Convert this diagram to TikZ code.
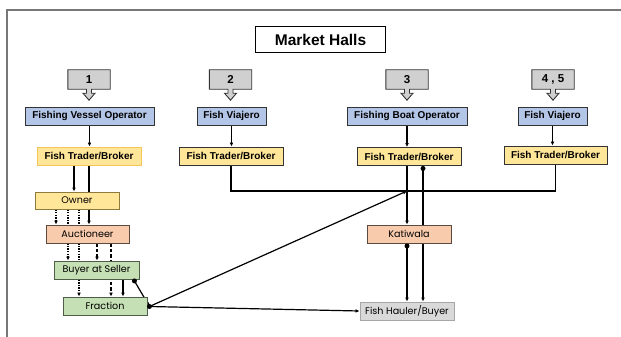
\documentclass[tikz,border=0pt]{standalone}
\usepackage{fontspec}
\setmainfont{Liberation Sans}
\IfFileExists{texgyreadventor-regular.otf}{\newfontfamily\gothic{texgyreadventor-regular.otf}}{\newfontfamily\gothic{Poppins}}
\usetikzlibrary{arrows.meta,calc}
\definecolor{framec}{HTML}{777777}
\definecolor{callg}{HTML}{D0D0D0}
\definecolor{blueF}{HTML}{B4C6E7}
\definecolor{yellF}{HTML}{FFE699}
\definecolor{yellB}{HTML}{F2C45A}
\definecolor{ownB}{HTML}{8C7B3C}
\definecolor{salF}{HTML}{F8CBAD}
\definecolor{salB}{HTML}{5A4A40}
\definecolor{grnF}{HTML}{C5E0B4}
\definecolor{grnB}{HTML}{4D5D47}
\definecolor{hauF}{HTML}{D9D9D9}
\definecolor{hauB}{HTML}{A6A6A6}
\definecolor{edge}{HTML}{333333}
\pgfdeclarelayer{bg}
\pgfsetlayers{bg,main}
\tikzset{
  box/.style={rectangle, draw=edge, line width=0.9pt, inner sep=0pt, minimum height=18pt},
  boldbox/.style={box, font=\bfseries\fontsize{10}{11}\selectfont},
  plainbox/.style={box, font=\gothic\fontsize{9.6}{10}\selectfont},
  bluebox/.style={boldbox, fill=blueF},
  tradebox/.style={boldbox, fill=yellF},
  callnum/.style={rectangle, inner sep=0pt, minimum width=42pt, minimum height=19pt, font=\bfseries\fontsize{11.5}{12}\selectfont},
  callshape/.style={draw=edge, fill=callg, line width=0.9pt, line join=miter},
  conn/.style={line width=1.2pt, draw=black, arrows={-Latex[length=4pt,width=3.8pt]}},
  plainline/.style={line width=1.2pt, draw=black},
  dotl/.style={conn, dash pattern=on 1.3pt off 1.3pt},
  dashl/.style={conn, dash pattern=on 3.5pt off 2pt},
  blob/.style={fill=black},
}
\newcommand\calloutpath[1]{%
  \draw[callshape] (#1.north west) -- (#1.north east) -- (#1.south east)
   -- ($(#1.south)+(2.5,0)$) -- ($(#1.south)+(2.5,4)$) -- ($(#1.south)+(6,4)$)
   -- ($(#1.south)+(0,11)$) -- ($(#1.south)+(-6,4)$) -- ($(#1.south)+(-2.5,4)$)
   -- ($(#1.south)+(-2.5,0)$) -- (#1.south west) -- cycle;}
\begin{document}
\begin{tikzpicture}[x=1pt,y=-1pt]
\useasboundingbox (0,0) rectangle (621,337);
\draw[framec, line width=1.3pt] (7,345) -- (7,10) -- (630,10);

% title
\node[rectangle, draw=black, line width=1pt, minimum width=130pt, minimum height=26pt, inner sep=0pt,
      font=\bfseries\fontsize{15.5}{17}\selectfont] (mh) at (320.5,40) {Market Halls};

% callouts
\node[callnum] (c1) at (89,79.5) {1};
\node[callnum] (c2) at (230.5,79.5) {2};
\node[callnum] (c3) at (407,79.5) {3};
\node[callnum] (c4) at (553,79.5) {4 , 5};
\begin{pgfonlayer}{bg}
\calloutpath{c1}\calloutpath{c2}\calloutpath{c3}\calloutpath{c4}
\end{pgfonlayer}

% operators
\node[bluebox, minimum width=129pt] (b1) at (89.5,116) {Fishing Vessel Operator};
\node[bluebox, minimum width=69pt] (b2) at (231.5,116) {Fish Viajero};
\node[bluebox, minimum width=120pt] (b3) at (407,116) {Fishing Boat Operator};
\node[bluebox, minimum width=69pt] (b4) at (552.5,116) {Fish Viajero};

% traders
\node[tradebox, draw=yellB, minimum width=104pt] (t1) at (89,156) {Fish Trader/Broker};
\node[tradebox, minimum width=104pt] (t2) at (231,156) {Fish Trader/Broker};
\node[tradebox, minimum width=104pt] (t3) at (409,156.5) {Fish Trader/Broker};
\node[tradebox, minimum width=103pt] (t4) at (555.5,155) {Fish Trader/Broker};

% left column
\node[plainbox, fill=yellF, draw=ownB, minimum width=84pt, minimum height=17pt] (own) at (77,200.5) {Owner};
\node[plainbox, fill=salF, draw=salB, minimum width=83pt] (auc) at (87.5,234) {Auctioneer};
\node[plainbox, fill=grnF, draw=grnB, minimum width=85pt] (buy) at (96.5,270) {Buyer at Seller};
\node[plainbox, fill=grnF, draw=grnB, minimum width=84pt] (fra) at (105,306) {Fraction};

% right column
\node[plainbox, fill=salF, draw=salB, minimum width=84pt] (kat) at (409,234) {Katiwala};
\node[plainbox, fill=hauF, draw=hauB, minimum width=94pt] (hau) at (407,311) {Fish Hauler/Buyer};

% helper columns
\coordinate (x56) at (56,0);
\coordinate (x68) at (68,0);
\coordinate (x74) at (74,0);
\coordinate (x79) at (79,0);
\coordinate (x89) at (89,0);
\coordinate (x97) at (97,0);
\coordinate (x111) at (111,0);
\coordinate (x123) at (123,0);
\coordinate (x407) at (407,0);
\coordinate (x423) at (423,0);
\coordinate (hj) at (407,191);
\coordinate (bdot) at ($(buy.south east)+(-5,1.5)$);
\coordinate (fdot) at ($(fra.east)+(2,0.5)$);

\begin{pgfonlayer}{bg}
% operator -> trader
\draw[conn] (b1.south) -- (t1.north -| b1.south);
\draw[conn] (b2.south) -- (t2.north -| b2.south);
\draw[conn] (b3.south) -- (t3.north -| b3.south);
\draw[conn] (b4.south) -- (t4.north -| b4.south);
% left column flows
\draw[conn] (t1.south -| x74) -- (own.north -| x74);
\draw[conn] (t1.south -| x89) -- (auc.north -| x89);
\draw[dotl] (own.south -| x56) -- (auc.north -| x56);
\draw[dotl] (own.south -| x68) -- (buy.north -| x68);
\draw[dotl] (own.south -| x79) -- (fra.north -| x79);
\draw[dashl] (auc.south -| x97) -- (buy.north -| x97);
\draw[dashl] (auc.south -| x111) -- (fra.north -| x111);
\draw[conn] (buy.south -| x123) -- (fra.north -| x123);
\draw[conn] (bdot) -- (fdot);
\draw[conn] (fdot) -- (hj);
\draw[conn] (fdot) -- (hau.west);
% trader links
\draw[plainline] (t2.south) |- (hj) -| (t4.south);
\draw[conn] (t3.south -| x407) -- (kat.north -| x407);
\draw[conn] (t3.south -| x423) -- (hau.north -| x423);
\draw[conn] (kat.south -| x407) -- (hau.north -| x407);
\end{pgfonlayer}
% connection dots
\fill[blob] (bdot) circle (2.5pt);
\fill[blob] (fdot) circle (2.5pt);
\fill[blob] ($(t3.south -| x423)+(0,2.5)$) circle (2.5pt);
\fill[blob] ($(kat.south -| x407)+(0,2.5)$) circle (2.5pt);
\end{tikzpicture}
\end{document}
